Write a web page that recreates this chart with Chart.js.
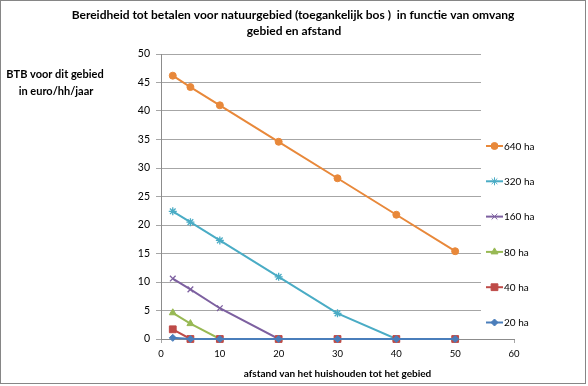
<!DOCTYPE html>
<html>
<head>
<meta charset="utf-8">
<script src="https://cdn.jsdelivr.net/npm/chart.js@4"></script>
<style>
  html, body { margin: 0; padding: 0; background: #fff; }
  #wrap { width: 588px; height: 386px; position: relative; }
</style>
</head>
<body>
<div id="wrap"><canvas id="c" width="588" height="386"></canvas></div>
<script>
// afstand (km) en BTB per omvang gebied
const afstand = [2, 5, 10, 20, 30, 40, 50];
const btb640 = [46.2, 44.2, 41.0, 34.6, 28.2, 21.8, 15.4];
const btb320 = [22.4, 20.5, 17.3, 10.9, 4.5, 0, 0];
const btb160 = [10.6, 8.7, 5.4, 0, 0, 0, 0];
const btb80 = [4.6, 2.7, 0, 0, 0, 0, 0];
const btb40 = [1.7, 0, 0, 0, 0, 0, 0];
const btb20 = [0.2, 0, 0, 0, 0, 0, 0];
const seriesLabels = ['640 ha', '320 ha', '160 ha', '80 ha', '40 ha', '20 ha'];
const xTicks = [0, 10, 20, 30, 40, 50, 60];
const yTicks = [0, 5, 10, 15, 20, 25, 30, 35, 40, 45, 50];

const titleLines = ['Bereidheid tot betalen voor natuurgebied (toegankelijk bos )  in functie van omvang', 'gebied en afstand'];
const yTitleLines = ['BTB voor dit gebied', 'in euro/hh/jaar'];
const xTitle = 'afstand van het huishouden tot het gebied';

const colors = ['#E8883A', '#4AACC5', '#7D60A0', '#98B954', '#BE4B48', '#4A7EBB'];
const markers = ['circle', 'star', 'crossRot', 'triangle', 'rect', 'rectRot'];
const markerSize = [3.5, 4, 4, 4, 4.8, 3.5];
const allValues = [btb640, btb320, btb160, btb80, btb40, btb20];

const FONT = 'Lato, "Open Sans", sans-serif';

const datasets = allValues.map((vals, i) => ({
  label: seriesLabels[i],
  data: afstand.map((x, j) => ({ x: x, y: vals[j] })),
  showLine: true,
  borderColor: colors[i],
  backgroundColor: colors[i],
  borderWidth: 2,
  pointStyle: markers[i],
  pointRadius: markerSize[i],
  pointBorderWidth: markers[i] === 'star' || markers[i] === 'crossRot' ? 1.3 : 1,
  pointBorderColor: colors[i],
  order: allValues.length - i,
  clip: false
}));

const decor = {
  id: 'decor',
  beforeDatasetsDraw(chart) {
    const ctx = chart.ctx;
    const a = chart.chartArea;
    // legend sits over the right part of the plot area
    ctx.save();
    ctx.fillStyle = '#fff';
    ctx.fillRect(481, a.top - 2, a.right - 481 + 2, a.bottom - a.top - 1);
    ctx.restore();
  },
  afterDraw(chart) {
    const ctx = chart.ctx;
    const a = chart.chartArea;
    ctx.save();
    ctx.fillStyle = '#000';
    ctx.textAlign = 'center';
    ctx.textBaseline = 'middle';
    ctx.font = 'bold 12px ' + FONT;
    ctx.fillText(titleLines[0], 293, 15);
    ctx.fillText(titleLines[1], 294, 31);
    ctx.font = 'bold 11px ' + FONT;
    ctx.fillText(yTitleLines[0], 55, 74);
    ctx.fillText(yTitleLines[1], 56, 91);
    ctx.font = 'bold 10px ' + FONT;
    ctx.fillText(xTitle, (a.left + a.right) / 2, 374);

    // legend
    const lx = 486, ly0 = 146, dy = 35.3;
    ctx.textAlign = 'left';
    ctx.font = '10px ' + FONT;
    seriesLabels.forEach((lab, i) => {
      const y = ly0 + i * dy;
      ctx.strokeStyle = colors[i];
      ctx.fillStyle = colors[i];
      ctx.lineWidth = 2;
      ctx.beginPath();
      ctx.moveTo(lx, y);
      ctx.lineTo(lx + 17, y);
      ctx.stroke();
      ctx.lineWidth = 1;
      Chart.helpers.drawPoint(ctx, {
        pointStyle: markers[i],
        radius: markerSize[i],
        borderWidth: 1,
        rotation: 0
      }, lx + 8.5, y);
      ctx.fillStyle = '#000';
      ctx.fillText(lab, lx + 18, y + 0.5);
    });

    // chart border
    ctx.strokeStyle = '#868686';
    ctx.lineWidth = 1;
    ctx.strokeRect(0.5, 0.5, 585, 383);
    ctx.restore();
  }
};

new Chart(document.getElementById('c'), {
  type: 'scatter',
  data: { datasets: datasets },
  options: {
    responsive: false,
    animation: false,
    devicePixelRatio: 1,
    layout: { padding: { top: 54, right: 74, left: 0, bottom: 0 } },
    plugins: {
      legend: { display: false },
      title: { display: false },
      tooltip: { enabled: false }
    },
    scales: {
      x: {
        type: 'linear',
        min: 0,
        max: 60,
        afterFit(scale) { scale.height = 47; },
        afterBuildTicks(scale) { scale.ticks = xTicks.map(v => ({ value: v })); },
        grid: { drawOnChartArea: false, drawTicks: true, tickLength: 4, color: '#a6a6a6' },
        border: { color: '#8c8c8c', width: 1 },
        ticks: { color: '#000', padding: 5, font: { family: FONT, size: 9.5 }, maxRotation: 0 }
      },
      y: {
        type: 'linear',
        min: 0,
        max: 50,
        afterFit(scale) { scale.width = 161; },
        afterBuildTicks(scale) { scale.ticks = yTicks.map(v => ({ value: v })); },
        grid: { color: '#a6a6a6', drawTicks: true, tickLength: 5 },
        border: { color: '#8c8c8c', width: 1 },
        ticks: { color: '#000', padding: 6, font: { family: FONT, size: 10.5 } }
      }
    }
  },
  plugins: [decor]
});
</script>
</body>
</html>
